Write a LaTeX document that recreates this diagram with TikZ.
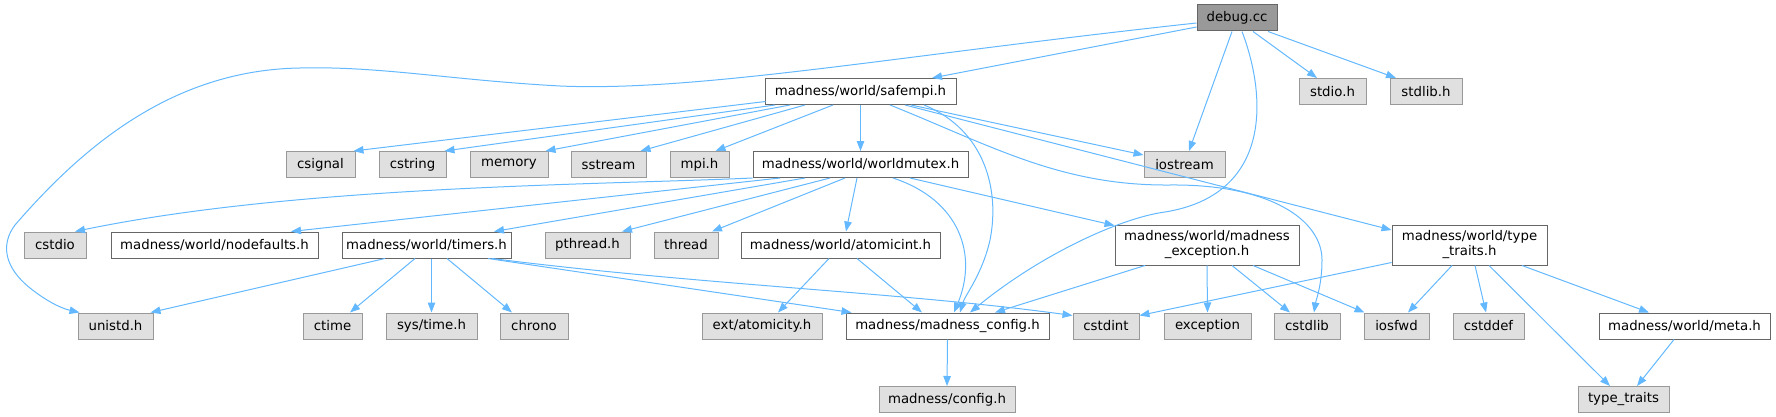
\documentclass[tikz,border=0pt]{standalone}
\usepackage{fontspec}
\setmainfont{DejaVu Sans}
\usetikzlibrary{arrows.meta}
\definecolor{edgec}{HTML}{63B8FF}
\definecolor{grayfill}{HTML}{E0E0E0}
\definecolor{grayline}{HTML}{999999}
\definecolor{darkline}{HTML}{666666}
\definecolor{rootfill}{HTML}{999999}
\tikzset{
  box/.style={rectangle, inner sep=0pt, minimum height=26pt, line width=1pt,
    font=\fontsize{13.3}{15}\selectfont, align=center},
  wbox/.style={box, draw=darkline, fill=white},
  gbox/.style={box, draw=grayline, fill=grayfill},
  rbox/.style={box, draw=darkline, fill=rootfill},
  tbox/.style={wbox, minimum height=40pt},
  edge/.style={draw=edgec, line width=1pt, -{Triangle[length=10pt,width=7.5pt]}, fill=none},
}
\begin{document}
\begin{tikzpicture}[x=1pt,y=-1pt]
\useasboundingbox (0,0) rectangle (1776,417);
% row 0
\node[rbox, minimum width=80] (debug) at (1237,18) {debug.cc};
% row 1
\node[wbox, minimum width=191] (safempi) at (860.5,91.5) {madness/world/safempi.h};
\node[gbox, minimum width=67] (stdio) at (1332.5,91.5) {stdio.h};
\node[gbox, minimum width=72] (stdlib) at (1426,91.5) {stdlib.h};
% row 2
\node[gbox, minimum width=69] (csignal) at (320.5,164.5) {csignal};
\node[gbox, minimum width=67] (cstring) at (412.5,164.5) {cstring};
\node[gbox, minimum width=78] (memory) at (509,164.5) {memory};
\node[gbox, minimum width=75] (sstream) at (608.5,164.5) {sstream};
\node[gbox, minimum width=59] (mpi) at (699.5,164.5) {mpi.h};
\node[wbox, minimum width=215] (worldmutex) at (860.5,164.5) {madness/world/worldmutex.h};
\node[gbox, minimum width=81] (iostream) at (1184.5,164.5) {iostream};
% row 3
\node[gbox, minimum width=62] (cstdio) at (55,245) {cstdio};
\node[wbox, minimum width=207] (nodefaults) at (214.5,245) {madness/world/nodefaults.h};
\node[wbox, minimum width=169] (timers) at (426.5,245) {madness/world/timers.h};
\node[gbox, minimum width=85] (pthread) at (587.5,245) {pthread.h};
\node[gbox, minimum width=64] (thread) at (686,245) {thread};
\node[wbox, minimum width=199] (atomicint) at (840.5,245) {madness/world/atomicint.h};
\node[tbox, minimum width=184] (mexc) at (1207,245) {madness/world/madness\\\_exception.h};
\node[tbox, minimum width=155] (tth) at (1469.5,245) {madness/world/type\\\_traits.h};
% row 4
\node[gbox, minimum width=75] (unistd) at (115.5,326) {unistd.h};
\node[gbox, minimum width=59] (ctime) at (332.5,326) {ctime};
\node[gbox, minimum width=91] (systime) at (431.5,326) {sys/time.h};
\node[gbox, minimum width=68] (chrono) at (534,326) {chrono};
\node[gbox, minimum width=120] (extatom) at (762,326) {ext/atomicity.h};
\node[wbox, minimum width=203] (mconfig) at (947.5,326) {madness/madness\_config.h};
\node[gbox, minimum width=66] (cstdint) at (1106,326) {cstdint};
\node[gbox, minimum width=87] (exception) at (1207.5,326) {exception};
\node[gbox, minimum width=66] (cstdlib) at (1307,326) {cstdlib};
\node[gbox, minimum width=65] (iosfwd) at (1396.5,326) {iosfwd};
\node[gbox, minimum width=71] (cstddef) at (1488.5,326) {cstddef};
\node[wbox, minimum width=171] (meta) at (1684.5,326) {madness/world/meta.h};
% row 5
\node[gbox, minimum width=136] (config) at (947,399.5) {madness/config.h};
\node[gbox, minimum width=91] (typetraits) at (1623.5,399.5) {type\_traits};

% debug.cc edges
\draw[edge] ([yshift=-9pt]debug.west) -- ([xshift=71.5pt]safempi.north);
\draw[edge] ([yshift=-5pt]debug.west) .. controls (900,55) and (700,92) .. (560,86)
  .. controls (450,80) and (380,66) .. (300,68)
  .. controls (170,70) and (80,150) .. (15,225)
  .. controls (0,245) and (5,268) .. (30,288)
  .. controls (45,300) and (60,308) .. ([xshift=2pt]unistd.north west);
\draw[edge] ([xshift=-5pt]debug.south) -- ([xshift=4.5pt]iostream.north);
\draw[edge] ([xshift=5pt]debug.south) .. controls (1268,100) and (1270,195) .. (1165,212)
  .. controls (1120,218) and (1040,255) .. ([xshift=22.5pt]mconfig.north);
\draw[edge] ([xshift=16pt]debug.south) -- ([xshift=-15.5pt]stdio.north);
\draw[edge] ([xshift=31pt]debug.south) -- ([xshift=-30pt]stdlib.north);

% safempi edges
\draw[edge] ([shift={(1pt,3.5pt)}]safempi.south west) -- ([xshift=-2pt]csignal.north east);
\draw[edge] ([xshift=-85.5pt]safempi.south) -- ([xshift=-2pt]cstring.north east);
\draw[edge] ([xshift=-70.5pt]safempi.south) -- ([xshift=-3pt]memory.north east);
\draw[edge] ([xshift=-55.5pt]safempi.south) -- ([xshift=-6pt]sstream.north east);
\draw[edge] ([xshift=-27.5pt]safempi.south) -- ([xshift=-14pt]mpi.north east);
\draw[edge] (safempi.south) -- (worldmutex.north);
\draw[edge] ([xshift=50.5pt]safempi.south) -- ([yshift=-4pt]iostream.north west);
\draw[edge] ([xshift=63.5pt]safempi.south) .. controls (985,130) and (1000,190) .. (990,240)
  .. controls (982,275) and (965,295) .. ([xshift=12.5pt]mconfig.north);
\draw[edge] ([xshift=29.5pt]safempi.south) .. controls (990,145) and (1060,186) .. (1170,185)
  .. controls (1270,184) and (1322,220) .. (1322,260)
  .. controls (1322,285) and (1316,300) .. ([xshift=7pt]cstdlib.north);
\draw[edge] ([xshift=44.5pt]safempi.south) -- ([yshift=15pt]tth.west);

% worldmutex edges
\draw[edge] (worldmutex.south west) .. controls (600,185) and (300,185) .. ([xshift=20pt]cstdio.north);
\draw[edge] ([xshift=-80.5pt]worldmutex.south) -- ([xshift=76.5pt]nodefaults.north);
\draw[edge] ([xshift=-55.5pt]worldmutex.south) -- ([xshift=67.5pt]timers.north);
\draw[edge] ([xshift=-30.5pt]worldmutex.south) -- ([xshift=34.5pt]pthread.north);
\draw[edge] ([xshift=-15.5pt]worldmutex.south) -- ([xshift=26pt]thread.north);
\draw[edge] ([xshift=-3.5pt]worldmutex.south) -- ([xshift=5.5pt]atomicint.north);
\draw[edge] ([xshift=32.5pt]worldmutex.south) .. controls (960,200) and (978,255) .. ([xshift=6.5pt]mconfig.north);
\draw[edge] ([xshift=49.5pt]worldmutex.south) -- ([yshift=-1pt]mexc.north west);

% timers edges
\draw[edge] ([xshift=-41.5pt]timers.south) -- ([xshift=-3pt]unistd.north east);
\draw[edge] ([xshift=-11.5pt]timers.south) -- ([xshift=17.5pt]ctime.north);
\draw[edge] ([xshift=5pt]timers.south) -- (systime.north);
\draw[edge] ([xshift=20.5pt]timers.south) -- ([xshift=-22pt]chrono.north);
\draw[edge] ([xshift=61.5pt]timers.south) -- ([xshift=6pt]mconfig.north west);
\draw[edge] ([xshift=65.5pt]timers.south) .. controls (700,285) and (900,292) .. ([yshift=-3pt]cstdint.north west);

% atomicint edges
\draw[edge] ([xshift=-11.5pt]atomicint.south) -- ([xshift=16pt]extatom.north);
\draw[edge] ([xshift=16.5pt]atomicint.south) -- ([xshift=-25.5pt]mconfig.north);

% madness_exception edges
\draw[edge] ([xshift=-62pt]mexc.south) -- ([xshift=47.5pt]mconfig.north);
\draw[edge] (mexc.south) -- (exception.north);
\draw[edge] ([xshift=25pt]mexc.south) -- ([xshift=-17pt]cstdlib.north);
\draw[edge] ([xshift=46pt]mexc.south) -- ([xshift=1pt]iosfwd.north west);

% type_traits.h edges
\draw[edge] ([yshift=3pt]tth.south west) -- ([yshift=-3pt]cstdint.north east);
\draw[edge] ([xshift=-17.5pt]tth.south) -- ([xshift=11.5pt]iosfwd.north);
\draw[edge] ([xshift=5.5pt]tth.south) -- ([xshift=-2.5pt]cstddef.north);
\draw[edge] ([xshift=19.5pt]tth.south) -- ([xshift=-13.5pt]typetraits.north);
\draw[edge] ([xshift=52.5pt]tth.south) -- ([xshift=-35.5pt]meta.north);

% meta.h and madness_config edges
\draw[edge] ([xshift=-10.5pt]meta.south) -- ([xshift=13.5pt]typetraits.north);
\draw[edge] (mconfig.south) -- (config.north);
\end{tikzpicture}
\end{document}
